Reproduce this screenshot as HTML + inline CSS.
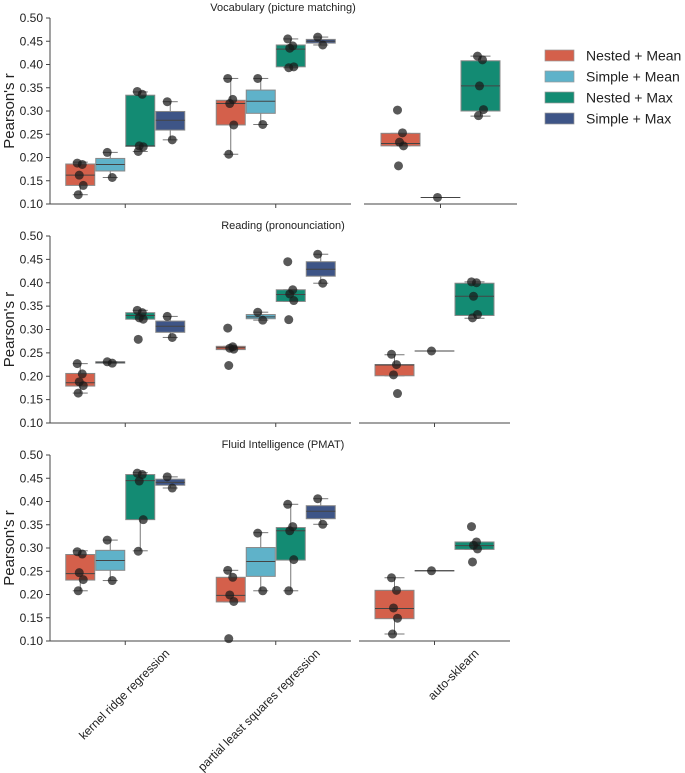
<!DOCTYPE html>
<html><head><meta charset="utf-8"><style>
body{margin:0;background:#fff;}
svg{display:block;font-family:"Liberation Sans",Arial,sans-serif;}
</style></head><body>
<svg id="chart" width="685" height="773" viewBox="0 0 685 773"></svg>
<script>
const panelTitles = ["Vocabulary (picture matching)", "Reading (pronounciation)", "Fluid Intelligence (PMAT)"];
const methods = ["kernel ridge regression", "partial least squares regression", "auto-sklearn"];
const seriesNames = ["Nested + Mean", "Simple + Mean", "Nested + Max", "Simple + Max"];
const yTicks = [0.10, 0.15, 0.20, 0.25, 0.30, 0.35, 0.40, 0.45, 0.50];
// box stats: [whiskerLo, q1, median, q3, whiskerHi]; index [panel][method][series]
const boxes = [
 [[[0.12,0.14,0.162,0.186,0.19],[0.157,0.171,0.185,0.198,0.211],[0.213,0.224,0.225,0.334,0.341],[0.238,0.259,0.28,0.299,0.32]],
  [[0.207,0.27,0.316,0.323,0.37],[0.271,0.295,0.321,0.345,0.37],[0.393,0.395,0.433,0.442,0.455],[0.442,0.446,0.45,0.454,0.459]],
  [[0.225,0.225,0.230,0.252,0.252],[0.114,0.114,0.114,0.114,0.114],[0.289,0.300,0.354,0.408,0.418]]],
 [[[0.164,0.179,0.186,0.206,0.227],[0.228,0.228,0.23,0.231,0.231],[0.322,0.322,0.33,0.336,0.341],[0.283,0.294,0.307,0.318,0.328]],
  [[0.257,0.257,0.261,0.264,0.264],[0.32,0.323,0.327,0.332,0.337],[0.36,0.36,0.375,0.385,0.385],[0.399,0.414,0.429,0.445,0.461]],
  [[0.201,0.201,0.224,0.225,0.246],[0.254,0.254,0.254,0.254,0.254],[0.324,0.33,0.371,0.399,0.402]]],
 [[[0.208,0.231,0.245,0.286,0.294],[0.23,0.252,0.273,0.295,0.317],[0.294,0.361,0.445,0.458,0.462],[0.429,0.435,0.441,0.448,0.453]],
  [[0.184,0.184,0.198,0.237,0.252],[0.208,0.239,0.271,0.301,0.333],[0.208,0.274,0.337,0.344,0.394],[0.351,0.363,0.379,0.391,0.406]],
  [[0.115,0.148,0.17,0.209,0.236],[0.251,0.251,0.251,0.251,0.251],[0.297,0.297,0.305,0.313,0.313]]]
];
const points = [
 [[[0.188,0.185,0.162,0.14,0.12],[0.211,0.157],[0.342,0.336,0.225,0.223,0.213],[0.32,0.238]],
  [[0.37,0.325,0.316,0.27,0.207],[0.37,0.271],[0.455,0.44,0.435,0.395,0.393],[0.459,0.442]],
  [[0.302,0.253,0.233,0.225,0.182],[0.114],[0.418,0.41,0.354,0.303,0.29]]],
 [[[0.227,0.205,0.188,0.18,0.164],[0.231,0.228],[0.341,0.336,0.325,0.322,0.279],[0.328,0.283]],
  [[0.303,0.263,0.26,0.258,0.223],[0.337,0.32],[0.445,0.385,0.376,0.362,0.321],[0.461,0.399]],
  [[0.247,0.225,0.203,0.163],[0.254],[0.402,0.4,0.371,0.332,0.325]]],
 [[[0.292,0.287,0.247,0.232,0.208],[0.317,0.23],[0.461,0.458,0.444,0.361,0.293],[0.453,0.429]],
  [[0.252,0.237,0.199,0.185,0.105],[0.332,0.208],[0.394,0.346,0.337,0.275,0.208],[0.406,0.351]],
  [[0.236,0.209,0.171,0.149,0.115],[0.251],[0.346,0.313,0.306,0.298,0.27]]]
];
const autoSeries = [0, 1, 2];

const colors = ["#d4604b", "#5fb2c9", "#138b73", "#3e5587"];
const panelY = [[18, 204], [236, 423], [455, 641]];
const rightX = [[364, 517], [359, 510], [359, 510]];
const leftX = [50, 351];
const jit = [-3, 2, -1, 3, -2];
const NS = "http://www.w3.org/2000/svg";
const svg = document.getElementById("chart");
function mk(tag, attrs, parent) {
  const e = document.createElementNS(NS, tag);
  for (const k in attrs) e.setAttribute(k, attrs[k]);
  (parent || svg).appendChild(e);
  return e;
}
for (let p = 0; p < 3; p++) {
  const [yt, yb] = panelY[p];
  const yScale = v => yb - (v - 0.10) / 0.40 * (yb - yt);
  const g = mk("g", {});
  
  
  const t = mk("text", {x: 283, y: yt - 7, "text-anchor": "middle", "font-size": 11, fill: "#222"}, g);
  t.textContent = panelTitles[p];
  
  
  const yl = mk("line", {x1: leftX[0], x2: leftX[0], y1: yt, y2: yb, stroke: "#444", "stroke-width": 1}, g);
  
  
  yTicks.forEach(v => {
    const y = yScale(v);
    mk("line", {x1: leftX[0] - 4, x2: leftX[0], y1: y, y2: y, stroke: "#444"}, g);
    const tl = mk("text", {x: leftX[0] - 7, y: y + 4, "text-anchor": "end", "font-size": 12, fill: "#222"}, g);
    tl.textContent = v.toFixed(2);
    
    
  });
  const yt2 = mk("text", {x: 0, y: 0, "text-anchor": "middle", "font-size": 15, fill: "#222",
    transform: `translate(14,${(yt + yb) / 2}) rotate(-90)`}, g);
  yt2.textContent = "Pearson's r";
  
  
  mk("line", {x1: leftX[0], x2: leftX[1], y1: yb, y2: yb, stroke: "#444"}, g);
  mk("line", {x1: rightX[p][0], x2: rightX[p][1], y1: yb, y2: yb, stroke: "#444"}, g);
  for (let m = 0; m < 3; m++) {
    let center, bw, sList;
    if (m < 2) {
      const span = (leftX[1] - leftX[0]) / 2;
      center = leftX[0] + span * (m + 0.5);
      bw = 30; sList = [0, 1, 2, 3];
    } else {
      center = (rightX[p][0] + rightX[p][1]) / 2;
      bw = 40; sList = autoSeries;
    }
    mk("line", {x1: center, x2: center, y1: yb, y2: yb + 4, stroke: "#444"}, g);
    if (p === 2) {
      const xl = mk("text", {x: 0, y: 0, "text-anchor": "end", "font-size": 12, fill: "#222",
        transform: `translate(${center + 45},${yb + 13}) rotate(-45)`}, g);
      xl.textContent = methods[m];
      
      
    }
    const n = sList.length;
    sList.forEach((s, i) => {
      const cx = center + (i - (n - 1) / 2) * bw;
      const [lo, q1, md, q3, hi] = boxes[p][m][i];
      const bg = mk("g", {}, g);
      
      
      const ww = q1 === q3 ? bw : bw / 2;
      mk("line", {x1: cx, x2: cx, y1: yScale(hi), y2: yScale(q3), stroke: "#777"}, bg);
      mk("line", {x1: cx, x2: cx, y1: yScale(q1), y2: yScale(lo), stroke: "#777"}, bg);
      mk("line", {x1: cx - ww / 2, x2: cx + ww / 2, y1: yScale(hi), y2: yScale(hi), stroke: "#777"}, bg);
      mk("line", {x1: cx - ww / 2, x2: cx + ww / 2, y1: yScale(lo), y2: yScale(lo), stroke: "#777"}, bg);
      if (q3 > q1) mk("rect", {x: cx - bw / 2 + 0.5, y: yScale(q3), width: bw - 1, height: yScale(q1) - yScale(q3),
        fill: colors[s], stroke: "#888", "stroke-width": 1}, bg);
      mk("line", {x1: cx - bw / 2 + 0.5, x2: cx + bw / 2 - 0.5, y1: yScale(md), y2: yScale(md), stroke: "#444", "stroke-width": 1}, bg);
      points[p][m][i].forEach((v, k) => {
        const c = mk("circle", {cx: cx + jit[k % 5], cy: yScale(v), r: 4.5, fill: "rgba(25,25,25,0.72)"}, bg);
        
        
      });
    });
  }
}
const lg = mk("g", {});


seriesNames.forEach((nm, i) => {
  const y = 50 + i * 21;
  mk("rect", {x: 545, y: y, width: 29, height: 11, fill: colors[i], stroke: "#999", "stroke-width": 0.7}, lg);
  const tx = mk("text", {x: 586, y: y + 10.5, "font-size": 14, fill: "#222"}, lg);
  tx.textContent = nm;
  
  
});
</script>
</body></html>
